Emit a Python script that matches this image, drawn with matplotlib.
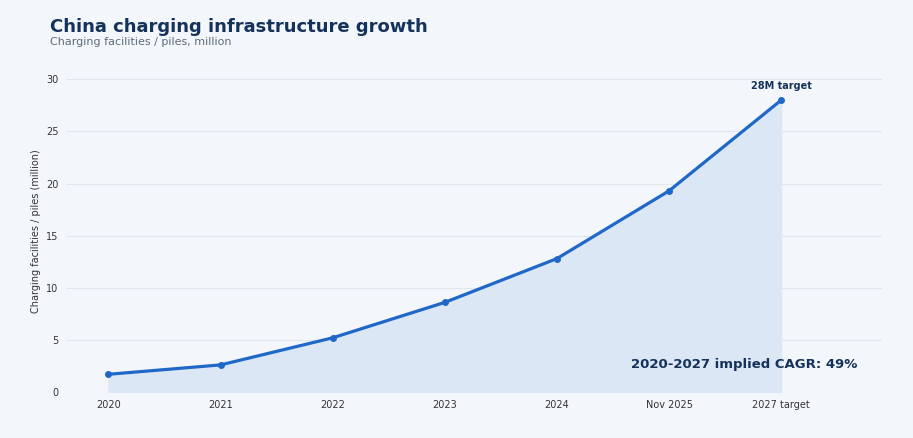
import matplotlib.pyplot as plt
import numpy as np

labels = ['2020', '2021', '2022', '2023', '2024', 'Nov 2025', '2027 target']
values = [1.7, 2.6, 5.2, 8.6, 12.8, 19.3, 28.0]

bg = '#f3f7fc'
line_c = '#2068c8'
dark = '#14325a'

fig = plt.figure(figsize=(9.13, 4.38), dpi=100, facecolor=bg)
ax = fig.add_axes([67 / 913, 1 - 392 / 438, (882 - 67) / 913, (392 - 70) / 438])
ax.set_facecolor(bg)

x = np.arange(len(labels))
ax.fill_between(x, values, color='#dce7f5', zorder=1)
ax.plot(x, values, color=line_c, lw=2.3, marker='o', ms=4, zorder=3)

ax.set_xlim(-0.37, 6.9)
ax.set_ylim(0, 30.9)
ax.set_xticks(x)
ax.set_xticklabels(labels)
ax.set_yticks(range(0, 31, 5))
ax.tick_params(labelsize=7, colors='#333333', length=0, pad=6)
ax.grid(axis='y', color='#e1e6ee', lw=0.8)
ax.set_axisbelow(True)
for s in ax.spines.values():
    s.set_visible(False)
ax.axhline(0, color='#e1e6ee', lw=0.8)
ax.set_ylabel('Charging facilities / piles (million)', fontsize=7, color='#333333')

ax.annotate('28M target', (6, 28), xytext=(0, 8), textcoords='offset points',
            ha='center', fontsize=7, fontweight='bold', color=dark)
ax.text(0.97, 0.075, '2020-2027 implied CAGR: 49%', transform=ax.transAxes,
        ha='right', fontsize=9.5, fontweight='bold', color=dark)

fig.text(50 / 913, 1 - 27 / 438, 'China charging infrastructure growth', fontsize=13,
         fontweight='bold', color=dark, va='center')
fig.text(50 / 913, 1 - 42 / 438, 'Charging facilities / piles, million', fontsize=8,
         color='#5f6b7a', va='center')

fig.savefig('out.png', dpi=100, facecolor=bg)
